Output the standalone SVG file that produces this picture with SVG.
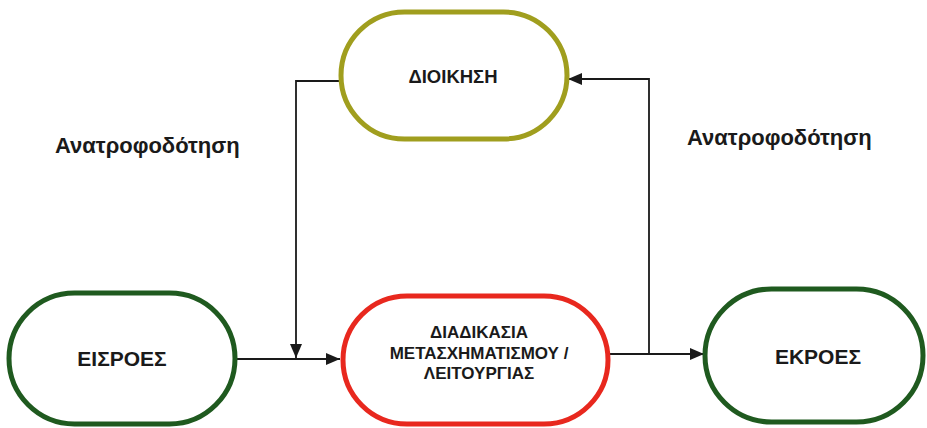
<svg xmlns="http://www.w3.org/2000/svg" width="927" height="428" viewBox="0 0 927 428">
  <style>
    .node { fill: #ffffff; stroke-width: 5; }
    .green { stroke: #1f5a1f; }
    .olive { stroke: #a09e1e; }
    .red { stroke: #e8281e; }
    .label { font-family: "Liberation Sans", Arial, sans-serif; font-weight: bold; fill: #1a1a1a; text-anchor: middle; }
    .edge { fill: none; stroke: #1a1a1a; stroke-width: 1.8; }
    .note { font-family: "Liberation Sans", Arial, sans-serif; font-weight: bold; fill: #1a1a1a; font-size: 22px; }
  </style>
  <defs>
    <marker id="arrow" viewBox="0 0 14 12" refX="14" refY="6" markerWidth="14" markerHeight="12" markerUnits="userSpaceOnUse" orient="auto">
      <path d="M0,0 L14,6 L0,12 Z" fill="#1a1a1a"/>
    </marker>
  </defs>
  <rect width="927" height="428" fill="#ffffff"/>

  <g id="connectors">
    <path class="edge" d="M235,359 L340,359" marker-end="url(#arrow)"/>
    <path class="edge" d="M341,81 L296,81 L296,358" marker-end="url(#arrow)"/>
    <path class="edge" d="M608,354 L704,354" marker-end="url(#arrow)"/>
    <path class="edge" d="M649,354 L649,79 L568,79" marker-end="url(#arrow)"/>
  </g>

  <g id="node-dioikisi">
    <rect class="node olive" x="341" y="12" width="226" height="127" rx="63.5"/>
    <text class="label" x="453" y="83" font-size="18.5">ΔΙΟΙΚΗΣΗ</text>
  </g>

  <g id="node-eisroes">
    <rect class="node green" x="9" y="293" width="226" height="131" rx="65.5"/>
    <text class="label" x="122" y="366" font-size="21">ΕΙΣΡΟΕΣ</text>
  </g>

  <g id="node-diadikasia">
    <rect class="node red" x="343" y="296" width="265" height="128" rx="64"/>
    <text class="label" x="479" y="338" font-size="17">ΔΙΑΔΙΚΑΣΙΑ</text>
    <text class="label" x="479" y="359" font-size="17">ΜΕΤΑΣΧΗΜΑΤΙΣΜΟΥ /</text>
    <text class="label" x="479" y="379" font-size="17">ΛΕΙΤΟΥΡΓΙΑΣ</text>
  </g>

  <g id="node-ekroes">
    <rect class="node green" x="705" y="289" width="218" height="133" rx="66.5"/>
    <text class="label" x="818" y="364" font-size="21">ΕΚΡΟΕΣ</text>
  </g>

  <g id="feedback-labels">
    <text class="note" x="55" y="153">Ανατροφοδότηση</text>
    <text class="note" x="687" y="145">Ανατροφοδότηση</text>
  </g>
</svg>
